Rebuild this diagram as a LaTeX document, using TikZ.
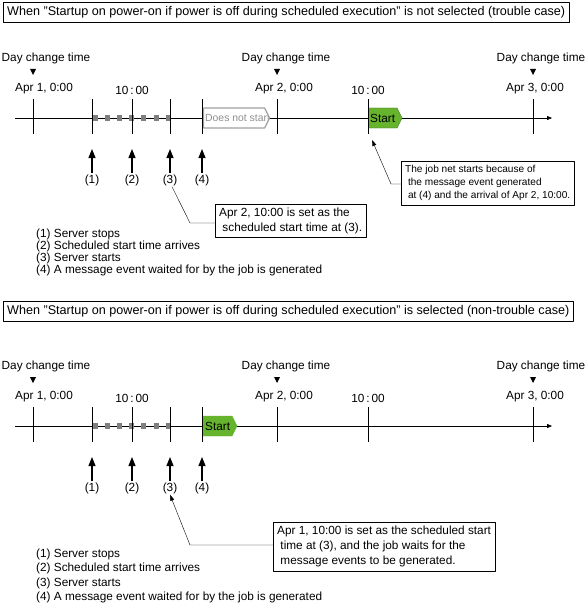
\documentclass[tikz,border=0pt]{standalone}
\usepackage{fontspec}
\setmainfont{Liberation Sans}
\usetikzlibrary{arrows.meta,shapes.symbols}
\definecolor{startgreen}{HTML}{66B32E}
\definecolor{startedge}{HTML}{3F6F22}
\definecolor{waitgray}{HTML}{7F7F7F}
\definecolor{skipgray}{HTML}{A0A0A0}
\begin{document}
\begin{tikzpicture}[x=1pt,y=-1pt,font=\fontsize{11.8}{14}\selectfont,line join=round,>={Triangle[length=9pt,width=7pt]}]
		\tikzset{case box/.style={draw,anchor=west,inner xsep=4pt,minimum height=20pt,font=\fontsize{12.6}{14}\selectfont},
			flag/.style={signal,signal to=east,signal pointer angle=127,minimum height=20pt,inner xsep=2pt,inner ysep=0pt,anchor=west},
			note/.style={draw,align=left,anchor=north west,inner xsep=4pt,inner ysep=4pt},
			mark label/.style={inner sep=1pt},
			wait line/.style={waitgray,line width=5.5pt,dash pattern=on 5pt off 7.2pt}}
		\useasboundingbox (0,0) rectangle (587,607);
		% trouble case
		\node[case box] (case1) at (3,12) {When "Startup on power-on if power is off during scheduled execution" is not selected (trouble case)};
		\draw[-{Triangle[length=5pt,width=4pt]}] (15,118)--(552,118);
		\draw[wait line] (92.5,118)--(171,118);
		\node[flag,draw=skipgray,line width=1.2pt,fill=white,minimum width=66pt,
			path picture={\node[anchor=west,text=skipgray!90!black,inner sep=1pt,font=\fontsize{10.4}{12}\selectfont] at (path picture bounding box.west) {Does not start};}] (skip1) at (203,118) {};
		\node[flag,draw=startedge,fill=startgreen] (go1) at (368,118) {Start};
		\foreach \x in {33,92,132,170,202,277,368,533} \draw (\x,99)--(\x,134);
		\foreach \x/\c in {33/46,277/286,533/541} {
			\node at (\c,58) {Day change time};
			\fill (\x-3,69)--(\x+3,69)--(\x,75)--cycle;}
		\node (apr1) at (44,89) {Apr 1, 0:00};
		\node (apr2) at (284,89) {Apr 2, 0:00};
		\node (apr3) at (535,89) {Apr 3, 0:00};
		\node (ten1) at (132,90) {10\,:\,00};
		\node (ten2) at (368,90) {10\,:\,00};
		\foreach \x/\n in {92/1,132/2,170/3,202/4} {
			\node[mark label] (m\n) at (\x,180) {(\n)};
			\draw[->,line width=1.2pt] (m\n.north)--(\x,149);}
		\node[note,font=\fontsize{11.8}{14.5}\selectfont] (why1) at (215,204) {Apr 2, 10:00 is set as the\\\ scheduled start time at (3).};
		\coordinate (k1) at (190,223);
		\draw ([xshift=2pt]m3.south)--(k1)--(k1 -| why1.west);
		\node[note,font=\fontsize{10.1}{13.2}\selectfont] (why2) at (401,161) {The job net starts because of\\\ the message event generated\\\ at (4) and the arrival of Apr 2, 10:00.};
		\coordinate (k2) at (391,184);
		\draw[-{Triangle[length=6pt,width=4pt]}] (k2 -| why2.west)--(k2)--(372,140);
		\node[anchor=north west,align=left,inner sep=0pt,font=\fontsize{11.8}{12}\selectfont] (key1) at (36,229) {(1) Server stops\\(2) Scheduled start time arrives\\(3) Server starts\\(4) A message event waited for by the job is generated};
		% non-trouble case
		\node[case box] (case2) at (3,311) {When "Startup on power-on if power is off during scheduled execution" is selected (non-trouble case)};
		\draw[-{Triangle[length=5pt,width=4pt]}] (15,426)--(552,426);
		\draw[wait line] (92.5,426)--(171,426);
		\node[flag,draw=startgreen,fill=startgreen] (go2) at (203,426) {Start};
		\foreach \x in {33,92,132,170,202,277,368,533} \draw (\x,407)--(\x,442);
		\foreach \x/\c in {33/46,277/286,533/541} {
			\node at (\c,366) {Day change time};
			\fill (\x-3,377)--(\x+3,377)--(\x,383)--cycle;}
		\node (apr4) at (44,397) {Apr 1, 0:00};
		\node (apr5) at (284,397) {Apr 2, 0:00};
		\node (apr6) at (535,397) {Apr 3, 0:00};
		\node (ten3) at (132,398) {10\,:\,00};
		\node (ten4) at (368,398) {10\,:\,00};
		\foreach \x/\n in {92/1,132/2,170/3,202/4} {
			\node[mark label] (n\n) at (\x,488) {(\n)};
			\draw[->,line width=1.2pt] (n\n.north)--(\x,457);}
		\node[note,font=\fontsize{11.8}{15}\selectfont] (why3) at (273,522) {Apr 1, 10:00 is set as the scheduled start\\\ time at (3), and the job waits for the\\\ message events to be generated.};
		\coordinate (k3) at (190,545);
		\draw[-{Triangle[length=6pt,width=4pt]}] (k3 -| why3.west)--(k3)--(n3.south);
		\node[anchor=north west,align=left,inner sep=0pt,font=\fontsize{11.8}{14.2}\selectfont] (key2) at (36,549) {(1) Server stops\\(2) Scheduled start time arrives\\(3) Server starts\\(4) A message event waited for by the job is generated};
\end{tikzpicture}
\end{document}
